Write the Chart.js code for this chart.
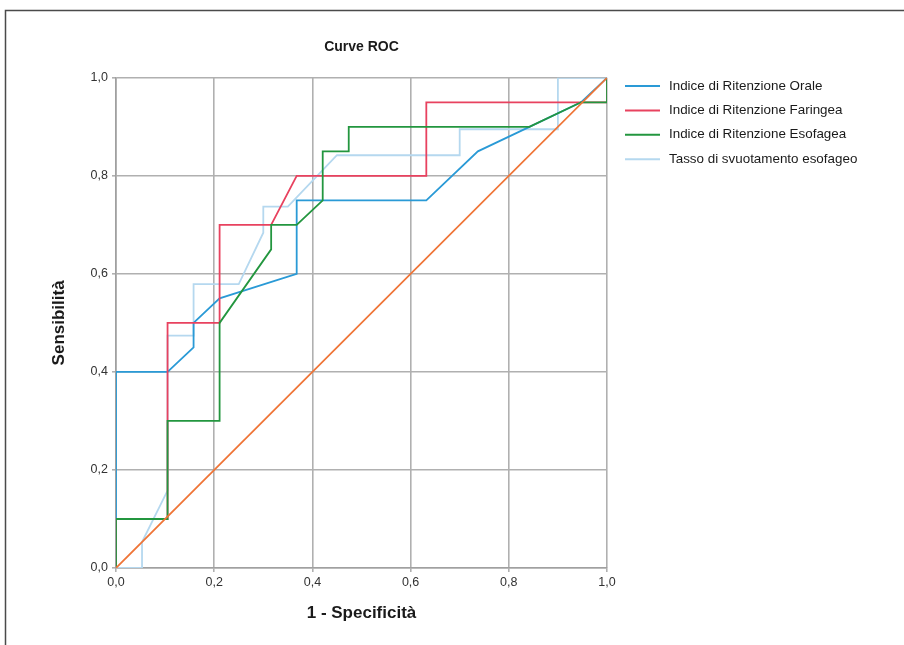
<!DOCTYPE html>
<html>
<head>
<meta charset="utf-8">
<script src="https://cdn.jsdelivr.net/npm/chart.js@4"></script>
<style>
  html, body { margin: 0; padding: 0; background: #fff; }
  #wrap { position: relative; width: 904px; height: 645px; }
</style>
</head>
<body>
<div id="wrap"><canvas id="roc" width="904" height="645"></canvas></div>
<script>
// series names (legend order)
const seriesNames = [
    "Indice di Ritenzione Orale",
    "Indice di Ritenzione Faringea",
    "Indice di Ritenzione Esofagea",
    "Tasso di svuotamento esofageo"
];
const seriesColors = ["#2a9ad6", "#e8425f", "#23963f", "#b5d8ef"];

// 1 - specificity (x) / sensitivity (y)
const oraleX = [0, 0, 0.105, 0.158, 0.158, 0.211, 0.368, 0.368, 0.632, 0.737, 0.842, 0.947, 1];
const oraleY = [0, 0.40, 0.40, 0.45, 0.50, 0.55, 0.60, 0.75, 0.75, 0.85, 0.90, 0.95, 1];

const faringeaX = [0, 0, 0.105, 0.105, 0.211, 0.211, 0.316, 0.368, 0.632, 0.632, 1, 1];
const faringeaY = [0, 0.10, 0.10, 0.50, 0.50, 0.70, 0.70, 0.80, 0.80, 0.95, 0.95, 1];

const esofageaX = [0, 0, 0.105, 0.105, 0.211, 0.211, 0.316, 0.316, 0.368, 0.421, 0.421, 0.474, 0.474, 0.842, 0.947, 1, 1];
const esofageaY = [0, 0.10, 0.10, 0.30, 0.30, 0.50, 0.65, 0.70, 0.70, 0.75, 0.85, 0.85, 0.90, 0.90, 0.95, 0.95, 1];

const tassoX = [0, 0.053, 0.053, 0.105, 0.105, 0.158, 0.158, 0.25, 0.30, 0.30, 0.35, 0.45, 0.70, 0.70, 0.90, 0.90, 1];
const tassoY = [0, 0, 0.053, 0.158, 0.474, 0.474, 0.579, 0.579, 0.684, 0.737, 0.737, 0.842, 0.842, 0.895, 0.895, 1, 1];

// reference diagonal
const refX = [0, 1];
const refY = [0, 1];

const tickValues = [0, 0.2, 0.4, 0.6, 0.8, 1.0];

const FONT = "'Liberation Sans', Arial, Helvetica, sans-serif";

function pts(xs, ys) {
    return xs.map((x, i) => ({ x: x, y: ys[i] }));
}

function fmt(v) {
    return v.toFixed(1).replace(".", ",");
}

const curves = [
    [oraleX, oraleY], [faringeaX, faringeaY], [esofageaX, esofageaY], [tassoX, tassoY]
];
// draw order in the picture: orange on top, then green, red, blue, light blue
const drawOrder = [3, 2, 1, 4];

const datasets = curves.map((c, i) => ({
    label: seriesNames[i],
    data: pts(c[0], c[1]),
    borderColor: seriesColors[i],
    borderWidth: 1.8,
    order: drawOrder[i]
}));
datasets.push({
    label: "",
    data: pts(refX, refY),
    borderColor: "#ef7436",
    borderWidth: 1.8,
    order: 0
});

// frame + legend drawn on the canvas
const extras = {
    id: "extras",
    afterDraw(chart) {
        const ctx = chart.ctx;
        ctx.save();
        ctx.strokeStyle = "#4a4a4a";
        ctx.lineWidth = 1.5;
        ctx.beginPath();
        ctx.moveTo(5.5, 645);
        ctx.lineTo(5.5, 10.5);
        ctx.lineTo(904, 10.5);
        ctx.stroke();

        ctx.font = "13.4px " + FONT;
        ctx.textBaseline = "middle";
        ctx.textAlign = "left";
        chart.data.datasets.forEach((ds, i) => {
            if (!ds.label) return;
            const y = 86 + i * 24.4;
            ctx.strokeStyle = ds.borderColor;
            ctx.lineWidth = 2;
            ctx.beginPath();
            ctx.moveTo(625, y);
            ctx.lineTo(660, y);
            ctx.stroke();
            ctx.fillStyle = "#1a1a1a";
            ctx.fillText(ds.label, 669, y);
        });
        ctx.restore();
    }
};

new Chart(document.getElementById("roc"), {
    type: "scatter",
    data: { datasets: datasets },
    plugins: [extras],
    options: {
        responsive: false,
        animation: false,
        showLine: true,
        elements: {
            point: { radius: 0, hoverRadius: 0 },
            line: { tension: 0 }
        },
        layout: { padding: { top: 31, right: 297, bottom: 0, left: 40 } },
        plugins: {
            legend: { display: false },
            tooltip: { enabled: false },
            title: {
                display: true,
                text: "Curve ROC",
                fullSize: false,
                color: "#1a1a1a",
                font: { family: FONT, size: 14, weight: "bold" },
                padding: { top: 8, bottom: 22 }
            }
        },
        scales: {
            x: {
                type: "linear",
                min: 0,
                max: 1,
                afterBuildTicks(scale) {
                    scale.ticks = tickValues.map(v => ({ value: v }));
                },
                afterFit(scale) { scale.height = 77; },
                ticks: {
                    color: "#333",
                    font: { family: FONT, size: 12.5 },
                    padding: 3,
                    maxRotation: 0,
                    callback: v => fmt(v)
                },
                grid: { color: "#b0b0b0", lineWidth: 1.6, tickLength: 4 },
                border: { color: "#a0a0a0", width: 1.6 },
                title: {
                    display: true,
                    text: "1 - Specificità",
                    color: "#1a1a1a",
                    font: { family: FONT, size: 17, weight: "bold" },
                    padding: { top: 4, bottom: 21 }
                }
            },
            y: {
                type: "linear",
                min: 0,
                max: 1,
                afterBuildTicks(scale) {
                    scale.ticks = tickValues.map(v => ({ value: v }));
                },
                afterFit(scale) { scale.width = 76; },
                ticks: {
                    color: "#333",
                    font: { family: FONT, size: 12.5 },
                    padding: 4,
                    callback: v => fmt(v)
                },
                grid: { color: "#b0b0b0", lineWidth: 1.6, tickLength: 4 },
                border: { color: "#a0a0a0", width: 1.6 },
                title: {
                    display: true,
                    text: "Sensibilità",
                    color: "#1a1a1a",
                    font: { family: FONT, size: 17, weight: "bold" },
                    padding: { top: 9, bottom: 4 }
                }
            }
        }
    }
});
</script>
</body>
</html>
